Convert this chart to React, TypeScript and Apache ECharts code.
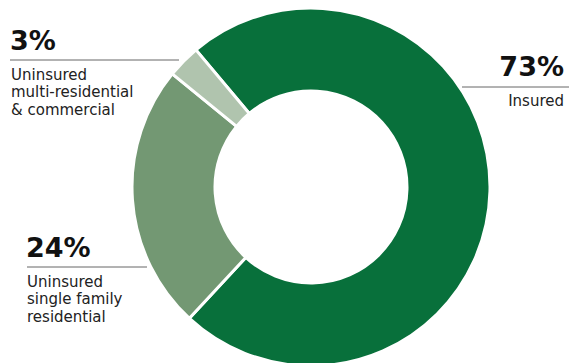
import React, { useEffect, useRef } from "react";
import * as echarts from "echarts";

const categories = ["Insured", "Uninsured single family residential", "Uninsured multi-residential & commercial"];
const values = [73, 24, 3];
const colors = ["#08703b", "#739873", "#b0c4ae"];

export default function App() {
  const ref = useRef<HTMLDivElement>(null);
  useEffect(() => {
    if (!ref.current) return;
    const chart = echarts.init(ref.current, null, { renderer: "svg" });
    const font = "DejaVu Sans";
    const pctStyle = { fontFamily: font, fontWeight: "bold", fontSize: 27, fill: "#111" };
    const subStyle = { fontFamily: font, fontSize: 15, fill: "#222", lineHeight: 17.5 };
    chart.setOption({
      animation: false,
      series: [
        {
          type: "pie",
          center: [311, 187],
          radius: [96, 179],
          startAngle: 130,
          clockwise: true,
          label: { show: false },
          labelLine: { show: false },
          silent: true,
          itemStyle: { borderColor: "#fff", borderWidth: 3 },
          data: categories.map((c, i) => ({ name: c, value: values[i], itemStyle: { color: colors[i] } })),
        },
      ],
      graphic: [
        { type: "text", left: 10, top: 27, style: { ...pctStyle, text: values[2] + "%" } },
        { type: "line", shape: { x1: 10, y1: 60, x2: 179, y2: 60 }, style: { stroke: "#666", lineWidth: 1 } },
        { type: "text", left: 11, top: 66, style: { ...subStyle, text: "Uninsured\nmulti-residential\n& commercial" } },

        { type: "text", left: 26, top: 234, style: { ...pctStyle, text: values[1] + "%" } },
        { type: "line", shape: { x1: 27, y1: 267, x2: 147, y2: 267 }, style: { stroke: "#666", lineWidth: 1 } },
        { type: "text", left: 27, top: 273, style: { ...subStyle, text: "Uninsured\nsingle family\nresidential" } },

        { type: "text", right: 5, top: 53, style: { ...pctStyle, text: values[0] + "%" } },
        { type: "line", shape: { x1: 462, y1: 87, x2: 569, y2: 87 }, style: { stroke: "#666", lineWidth: 1 } },
        { type: "text", right: 5, top: 92, style: { ...subStyle, text: "Insured" } },
      ],
    });
    return () => chart.dispose();
  }, []);
  return <div ref={ref} style={{ width: 569, height: 363, position: "absolute", left: 0, top: 0 }} />;
}
